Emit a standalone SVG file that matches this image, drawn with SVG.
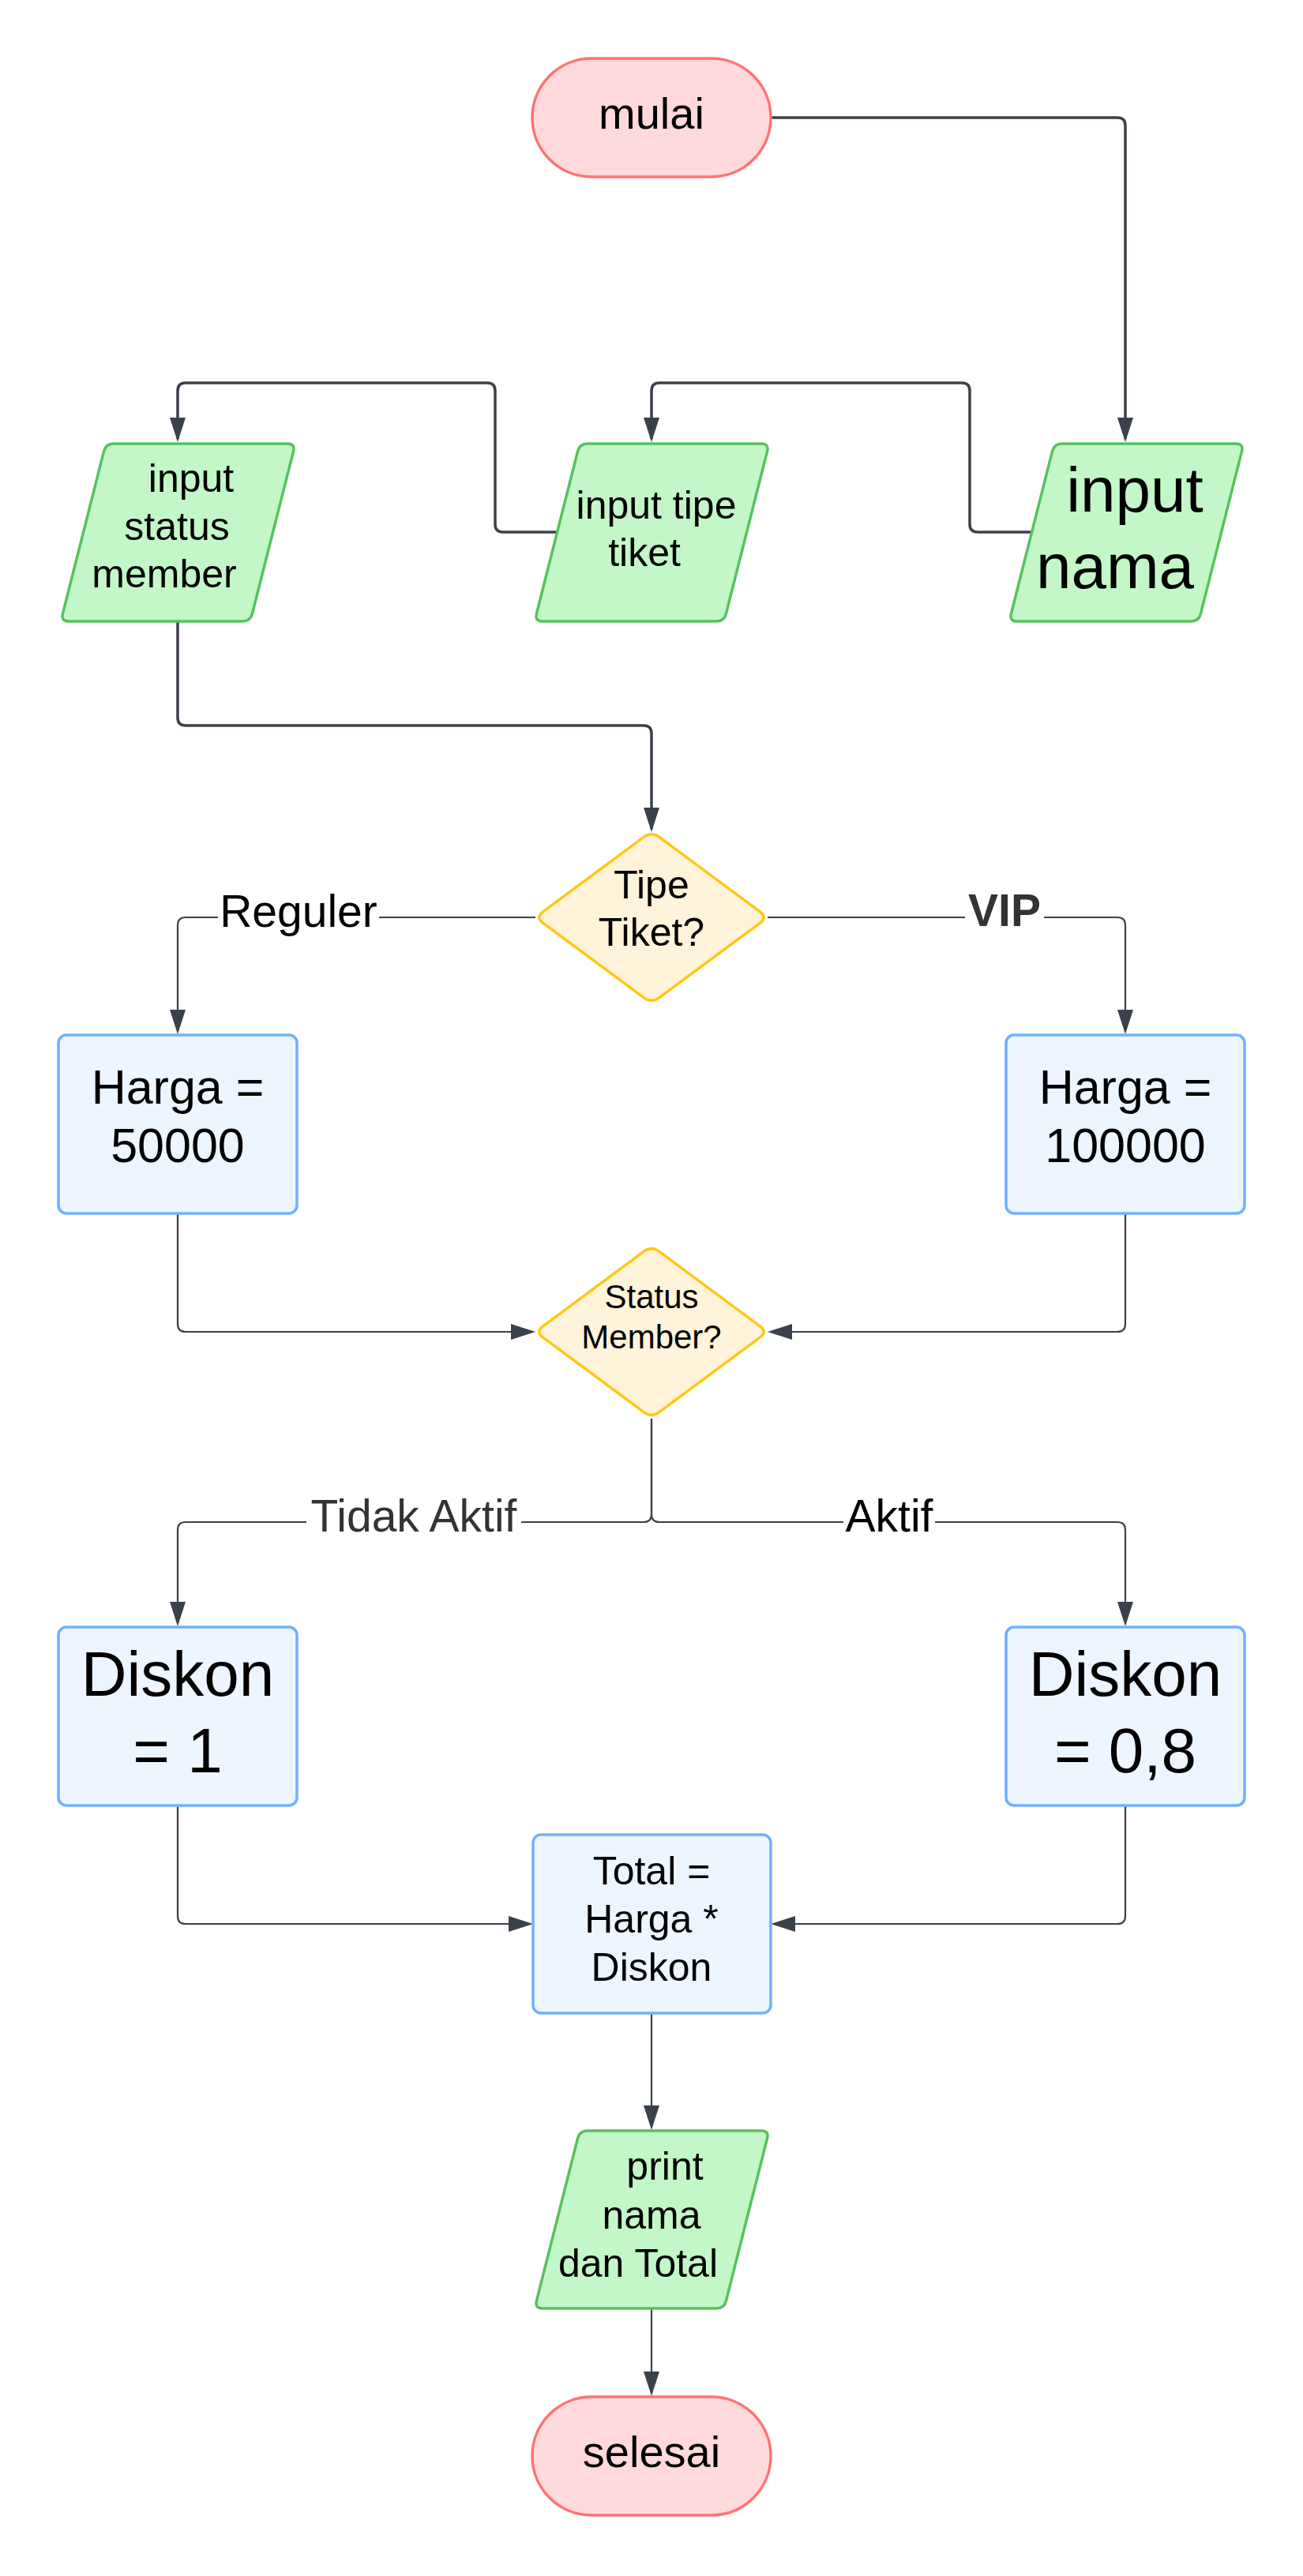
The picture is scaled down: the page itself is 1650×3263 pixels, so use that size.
<svg xmlns="http://www.w3.org/2000/svg" width="1650" height="3263" viewBox="0 0 1650 3263">
<style>
text{font-family:"Liberation Sans",Arial,sans-serif;fill:#000;text-anchor:middle}
.term{fill:#FFD9DB;stroke:#FF7272;stroke-width:3.5}
.io{fill:#C3F7C8;stroke:#55C25E;stroke-width:3.5}
.proc{fill:#EDF5FF;stroke:#70B1FF;stroke-width:3.5}
.dec{fill:#FFF3D9;stroke:#FFC815;stroke-width:3.5}
.c{fill:none;stroke:#3A414A}
.c3{stroke-width:3.5}
.c2{stroke-width:2.2}
.lbl{font-size:57px}
.lblbg{fill:#fff}
</style>
<defs>
<marker id="ah" markerUnits="userSpaceOnUse" markerWidth="32" markerHeight="22" viewBox="0 0 32 22" refX="27" refY="11" orient="auto">
<path d="M0,1 L31,11 L0,21 Z" fill="#3A414A"/>
</marker>
<path id="para" d="M 54.54 9.69 Q 57 0 67 0 L 287 0 Q 297 0 294.54 9.69 L 242.46 215.31 Q 240 225 230 225 L 10 225 Q 0 225 2.46 215.31 Z"/>
</defs>
<rect width="1650" height="3263" fill="#fff"/>

<g id="connectors">
<path class="c c3" marker-end="url(#ah)" d="M 976 149 H 1415 Q 1425 149 1425 159 V 556"/>
<path class="c c3" marker-end="url(#ah)" d="M 1307 674 H 1238 Q 1228 674 1228 664 V 495 Q 1228 485 1218 485 H 835 Q 825 485 825 495 V 556"/>
<path class="c c3" marker-end="url(#ah)" d="M 706 674 H 637 Q 627 674 627 664 V 495 Q 627 485 617 485 H 235 Q 225 485 225 495 V 556"/>
<path class="c c3" marker-end="url(#ah)" d="M 225 787 V 909 Q 225 919 235 919 H 815 Q 825 919 825 929 V 1050"/>
<path class="c c2" marker-end="url(#ah)" d="M 678 1162 H 235 Q 225 1162 225 1172 V 1306"/>
<path class="c c2" marker-end="url(#ah)" d="M 972 1162 H 1415 Q 1425 1162 1425 1172 V 1306"/>
<path class="c c2" marker-end="url(#ah)" d="M 225 1537 V 1677 Q 225 1687 235 1687 H 674"/>
<path class="c c2" marker-end="url(#ah)" d="M 1425 1537 V 1677 Q 1425 1687 1415 1687 H 976"/>
<path class="c c2" marker-end="url(#ah)" d="M 825 1797 V 1918 Q 825 1928 815 1928 H 235 Q 225 1928 225 1938 V 2056"/>
<path class="c c2" marker-end="url(#ah)" d="M 825 1797 V 1918 Q 825 1928 835 1928 H 1415 Q 1425 1928 1425 1938 V 2056"/>
<path class="c c2" marker-end="url(#ah)" d="M 225 2287 V 2427 Q 225 2437 235 2437 H 671"/>
<path class="c c2" marker-end="url(#ah)" d="M 1425 2287 V 2427 Q 1425 2437 1415 2437 H 980"/>
<path class="c c2" marker-end="url(#ah)" d="M 825 2550 V 2694"/>
<path class="c c2" marker-end="url(#ah)" d="M 825 2925 V 3031"/>
<g id="labels">
<rect class="lblbg" x="276" y="1125" width="204" height="70"/>
<text class="lbl" x="378" y="1174">Reguler</text>
<rect class="lblbg" x="1222" y="1125" width="100" height="60"/>
<text class="lbl" x="1272" y="1173" font-weight="bold" style="fill:#333">VIP</text>
<rect class="lblbg" x="388" y="1890" width="272" height="62"/>
<text class="lbl" x="524" y="1940" style="fill:#333">Tidak Aktif</text>
<rect class="lblbg" x="1068" y="1890" width="116" height="62"/>
<text class="lbl" x="1126" y="1940">Aktif</text>
</g>
</g>

<g id="mulai">
<rect class="term" x="674" y="74" width="302" height="150" rx="75" ry="75"/>
<text x="825" y="163" font-size="56">mulai</text>
</g>

<g id="input-nama" transform="translate(1278,562)">
<use href="#para" class="io"/>
<text x="159" y="86" font-size="80">input</text>
<text x="134" y="183" font-size="80">nama</text>
</g>

<g id="input-tipe-tiket" transform="translate(677,562)">
<use href="#para" class="io"/>
<text x="154" y="95" font-size="50">input tipe</text>
<text x="139" y="155" font-size="50">tiket</text>
</g>

<g id="input-status-member" transform="translate(77,562)">
<use href="#para" class="io"/>
<text x="165" y="61" font-size="50">input</text>
<text x="147" y="122" font-size="50">status</text>
<text x="131" y="182" font-size="50">member</text>
</g>

<g id="tipe-tiket">
<path class="dec" d="M 815.4 1060.2 Q 825 1053 834.6 1060.2 L 962.4 1154.8 Q 972 1162 962.4 1169.2 L 834.6 1263.8 Q 825 1271 815.4 1263.8 L 687.6 1169.2 Q 678 1162 687.6 1154.8 Z"/>
<text x="825" y="1138" font-size="50">Tipe</text>
<text x="825" y="1198" font-size="50">Tiket?</text>
</g>

<g id="harga-50000">
<rect class="proc" x="74" y="1311" width="302" height="226" rx="10" ry="10"/>
<text x="225" y="1398" font-size="61">Harga =</text>
<text x="225" y="1472" font-size="61">50000</text>
</g>

<g id="harga-100000">
<rect class="proc" x="1274" y="1311" width="302" height="226" rx="10" ry="10"/>
<text x="1425" y="1398" font-size="61">Harga =</text>
<text x="1425" y="1472" font-size="61">100000</text>
</g>

<g id="status-member">
<path class="dec" d="M 815.4 1585.2 Q 825 1578 834.6 1585.2 L 962.4 1679.8 Q 972 1687 962.4 1694.2 L 834.6 1788.8 Q 825 1796 815.4 1788.8 L 687.6 1694.2 Q 678 1687 687.6 1679.8 Z"/>
<text x="825" y="1657" font-size="42">Status</text>
<text x="825" y="1708" font-size="42">Member?</text>
</g>

<g id="diskon-1">
<rect class="proc" x="74" y="2061" width="302" height="226" rx="10" ry="10"/>
<text x="225" y="2148" font-size="80">Diskon</text>
<text x="225" y="2245" font-size="80">= 1</text>
</g>

<g id="diskon-08">
<rect class="proc" x="1274" y="2061" width="302" height="226" rx="10" ry="10"/>
<text x="1425" y="2148" font-size="80">Diskon</text>
<text x="1425" y="2245" font-size="80">= 0,8</text>
</g>

<g id="total">
<rect class="proc" x="675" y="2324" width="301" height="226" rx="10" ry="10"/>
<text x="825" y="2387" font-size="50">Total =</text>
<text x="825" y="2448" font-size="50">Harga *</text>
<text x="825" y="2509" font-size="50">Diskon</text>
</g>

<g id="print" transform="translate(677,2699)">
<use href="#para" class="io"/>
<text x="165" y="62" font-size="50">print</text>
<text x="148" y="124" font-size="50">nama</text>
<text x="131" y="185" font-size="50">dan Total</text>
</g>

<g id="selesai">
<rect class="term" x="674" y="3036" width="302" height="150" rx="75" ry="75"/>
<text x="825" y="3125" font-size="56">selesai</text>
</g>
</svg>
